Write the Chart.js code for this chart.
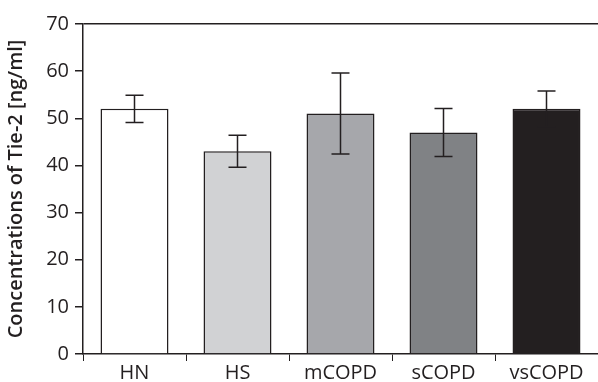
<!DOCTYPE html>
<html>
<head>
<meta charset="utf-8">
<script src="https://cdn.jsdelivr.net/npm/chart.js@4"></script>
<style>
  body { margin: 0; background: #fff; }
</style>
</head>
<body>
<canvas id="chart" width="598" height="382"></canvas>
<script>
// values
const categories = ['HN', 'HS', 'mCOPD', 'sCOPD', 'vsCOPD'];
const means = [52, 43, 51, 47, 52];
const errors = [2.9, 3.4, 8.6, 5.1, 3.8];
const barColors = ['#ffffff', '#d1d2d4', '#a6a7ab', '#808285', '#231f20'];
const yTicks = [0, 10, 20, 30, 40, 50, 60, 70];

const ink = '#231f20';

// draws the +/- error whiskers through the scales
const errorBars = {
    id: 'errorBars',
    afterDatasetsDraw(chart) {
        const ctx = chart.ctx;
        const x = chart.scales.x;
        const y = chart.scales.y;
        ctx.save();
        ctx.strokeStyle = ink;
        ctx.lineWidth = 1.5;
        means.forEach(function(m, i) {
            const cx = x.getPixelForValue(i);
            const top = y.getPixelForValue(m + errors[i]);
            const bot = y.getPixelForValue(m - errors[i]);
            ctx.beginPath();
            ctx.moveTo(cx, top);
            ctx.lineTo(cx, bot);
            ctx.moveTo(cx - 9, top);
            ctx.lineTo(cx + 9, top);
            ctx.moveTo(cx - 9, bot);
            ctx.lineTo(cx + 9, bot);
            ctx.stroke();
        });
        ctx.restore();
    }
};

const chart = new Chart(document.getElementById('chart'), {
    type: 'bar',
    data: {
        labels: categories,
        datasets: [{
            data: means,
            backgroundColor: barColors,
            borderColor: ink,
            borderWidth: 1.5,
            barPercentage: 0.66,
            categoryPercentage: 1
        }]
    },
    options: {
        responsive: false,
        animation: false,
        layout: { padding: { top: 24, right: 0, left: 0, bottom: 0 } },
        plugins: {
            legend: { display: false },
            tooltip: { enabled: false }
        },
        scales: {
            x: {
                offset: true,
                grid: {
                    offset: true,
                    color: 'transparent',
                    tickColor: ink,
                    tickLength: 7,
                    drawOnChartArea: false
                },
                border: { color: ink, width: 1.5 },
                ticks: {
                    color: ink,
                    padding: 0,
                    maxRotation: 0,
                    autoSkip: false,
                    font: { family: 'Open Sans', size: 20 }
                },
                afterFit: function(s) { s.height = 28; }
            },
            y: {
                min: 0,
                max: 70,
                afterBuildTicks: function(s) {
                    s.ticks = yTicks.map(function(v) { return { value: v }; });
                },
                grid: {
                    color: function(c) { return c.tick && c.tick.value === 70 ? ink : 'transparent'; },
                    lineWidth: 1.5,
                    tickColor: ink,
                    tickLength: 8
                },
                border: { color: ink, width: 1.5 },
                ticks: {
                    color: ink,
                    padding: 6,
                    font: { family: 'Open Sans', size: 20 }
                },
                title: {
                    display: true,
                    text: 'Concentrations of Tie-2 [ng/ml]',
                    color: ink,
                    padding: { top: 4, bottom: 0 },
                    font: { family: 'Open Sans', size: 20, weight: '600' }
                },
                afterFit: function(s) { s.width = 83; }
            }
        }
    },
    plugins: [errorBars]
});
</script>
</body>
</html>
